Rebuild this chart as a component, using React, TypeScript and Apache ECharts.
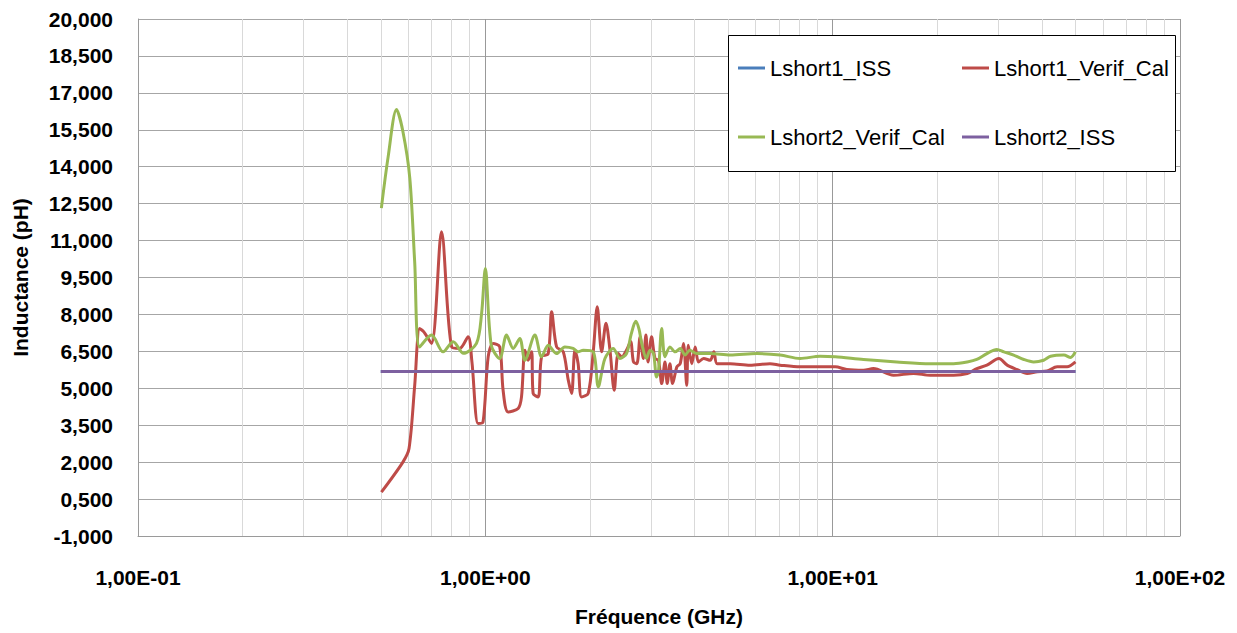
import React, { useEffect, useRef } from "react";
import * as echarts from "echarts";

// ---- data (frequency in GHz) ----
const issFreq = [0.5, 50];
const lshort1ISS = [5.68, 5.68];
const lshort2ISS = [5.68, 5.68];

const verif1Freq = [
  0.502, 0.579, 0.603, 0.626, 0.647, 0.665, 0.7, 0.748, 0.8, 0.844, 0.892, 0.915, 0.953, 0.985,
  1.019, 1.053, 1.1, 1.125, 1.163, 1.243, 1.271, 1.3, 1.328, 1.359, 1.373, 1.42, 1.452, 1.517,
  1.552, 1.604, 1.676, 1.733, 1.772, 1.811, 1.85, 1.893, 1.978, 2.045, 2.1, 2.162, 2.225, 2.285,
  2.35, 2.413, 2.47, 2.55, 2.62, 2.67, 2.73, 2.79, 2.85, 2.9, 2.94, 3.01, 3.08, 3.15, 3.22, 3.29,
  3.34, 3.4, 3.46, 3.56, 3.64, 3.72, 3.8, 3.84, 3.93, 4.02, 4.11, 4.25, 4.44, 4.55, 4.65, 5.07,
  5.78, 6.6, 7.06, 8.06, 9.2, 10.17, 10.98, 12.27, 13.1, 14.97, 17.1, 19.1, 22.3, 24.4, 26.0,
  27.8, 30.1, 31.8, 34.0, 36.3, 38.8, 41.4, 44.3, 47.3, 50,
];
const lshort1Verif = [
  0.78, 2.0, 2.55, 5.1, 7.43, 7.29, 6.82, 11.36, 6.68, 6.62, 7.09, 6.07, 3.57, 3.63,
  6.28, 6.82, 6.68, 4.92, 4.04, 4.18, 4.65, 6.55, 6.14, 6.48, 4.79, 4.65, 6.28, 6.41,
  8.11, 6.68, 6.48, 5.33, 4.79, 6.55, 6.0, 4.65, 4.79, 6.48, 8.31, 6.48, 7.64, 6.55,
  4.92, 6.41, 6.28, 6.55, 6.9, 6.07, 6.0, 7.09, 6.21, 7.16, 6.07, 7.09, 6.21, 6.14, 5.19, 6.07,
  5.19, 6.0, 5.19, 5.87, 6.0, 6.82, 5.12, 6.75, 6.0, 6.68, 6.07, 6.21, 6.14, 6.48, 6.0, 6.0,
  5.94, 6.0, 5.94, 5.87, 5.87, 5.87, 5.76, 5.73, 5.8, 5.53, 5.6, 5.53, 5.53, 5.6, 5.8,
  5.94, 6.21, 5.94, 5.76, 5.6, 5.67, 5.7, 5.87, 5.87, 6.07,
];

const verif2Freq = [
  0.502, 0.525, 0.555, 0.579, 0.606, 0.626, 0.647, 0.7, 0.756, 0.808, 0.865, 0.943, 0.975, 1.0,
  1.04, 1.1, 1.151, 1.203, 1.257, 1.3, 1.389, 1.452, 1.517, 1.604, 1.694, 1.79, 1.85, 1.914,
  2.045, 2.114, 2.21, 2.335, 2.44, 2.55, 2.63, 2.71, 2.77, 2.82, 2.91, 2.98, 3.05, 3.11, 3.15,
  3.22, 3.29, 3.4, 3.52, 3.64, 3.76, 3.88, 4.06, 4.44, 5.07, 6.05, 7.06, 8.06, 9.2, 10.17,
  12.27, 15.3, 19.1, 22.3, 24.4, 26.0, 27.8, 29.7, 31.1, 33.2, 35.5, 37.9, 40.5, 42.4, 46.3,
  48.4, 50,
];
const lshort2Verif = [
  12.32, 14.4, 16.32, 15.43, 13.55, 10.14, 6.68, 7.16, 6.48, 6.89, 6.42, 6.82, 8.0, 9.87,
  6.75, 6.21, 7.16, 6.62, 7.02, 6.14, 7.16, 6.28, 6.75, 6.41, 6.68, 6.62, 6.48, 6.55,
  6.48, 5.06, 6.21, 6.62, 6.21, 6.41, 7.2, 7.72, 7.4, 6.82, 6.21, 6.55, 6.41, 5.46, 5.67,
  7.43, 6.28, 6.68, 6.48, 6.62, 6.35, 6.55, 6.41, 6.41, 6.35, 6.41, 6.35, 6.21, 6.3, 6.28,
  6.17, 6.07, 6.0, 6.0, 6.07, 6.17, 6.41, 6.58, 6.48, 6.35, 6.17, 6.07, 6.14, 6.3, 6.35,
  6.25, 6.48,
];

const minorGridFreq = [
  0.2, 0.3, 0.4, 0.5, 0.6, 0.7, 0.8, 0.9, 2, 3, 4, 5, 6, 7, 8, 9, 20, 30, 40, 50, 60, 70, 80, 90,
];

const yMin = -1;
const yMax = 20;
const yStep = 1.5;
const yShift = -yMin; // axis is drawn shifted so that ticks fall on multiples of the step

const FONT = "'Liberation Sans', Arial, sans-serif";

const zip = (xs: number[], ys: number[]) => xs.map((x, i) => [x, ys[i] + yShift]);

export default function App() {
  const ref = useRef<HTMLDivElement>(null);

  useEffect(() => {
    if (!ref.current) return;
    const chart = echarts.init(ref.current, undefined, { renderer: "svg" });
    const lineSeries = (name: string, color: string, xs: number[], ys: number[], extra: any = {}) => ({
      name,
      type: "line",
      data: zip(xs, ys),
      color,
      symbol: "none",
      showSymbol: false,
      smooth: 0.3,
      lineStyle: { width: 3, color },
      itemStyle: { color },
      emphasis: { disabled: true },
      ...extra,
    });

    const legendBase = {
      orient: "vertical",
      top: 57,
      padding: 0,
      itemGap: 47,
      itemWidth: 27,
      itemHeight: 3,
      icon: "rect",
      z: 20,
      selectedMode: false,
      textStyle: { fontSize: 22, lineHeight: 22, color: "#000", fontFamily: FONT, padding: [0, 0, 0, 0] },
    };

    chart.setOption({
      animation: false,
      backgroundColor: "#ffffff",
      textStyle: { fontFamily: FONT },
      grid: { left: 138, right: 57, top: 19, bottom: 97, containLabel: false },
      xAxis: {
        type: "log",
        logBase: 10,
        min: 0.1,
        max: 100,
        axisLine: { show: true, lineStyle: { color: "#9a9a9a", width: 1 } },
        axisTick: { show: false },
        splitLine: { show: true, lineStyle: { color: "#999999", width: 1 } },
        axisLabel: {
          margin: 31,
          fontSize: 21,
          fontWeight: "bold",
          color: "#000",
          fontFamily: FONT,
          formatter: (v: number) => {
            const e = Math.round(Math.log10(v));
            return "1,00E" + (e < 0 ? "-" : "+") + String(Math.abs(e)).padStart(2, "0");
          },
        },
        name: "Fréquence (GHz)",
        nameLocation: "middle",
        nameGap: 70,
        nameTextStyle: { fontSize: 21, fontWeight: "bold", color: "#000", fontFamily: FONT },
      },
      yAxis: {
        type: "value",
        min: yMin + yShift,
        max: yMax + yShift,
        interval: yStep,
        axisLine: { show: true, lineStyle: { color: "#9a9a9a", width: 1 } },
        axisTick: { show: false },
        splitLine: { show: true, lineStyle: { color: "#a6a6a6", width: 1 } },
        axisLabel: {
          margin: 25,
          fontSize: 21,
          fontWeight: "bold",
          color: "#000",
          fontFamily: FONT,
          formatter: (v: number) => (v - yShift).toFixed(3).replace(".", ","),
        },
        name: "Inductance (pH)",
        nameLocation: "middle",
        nameGap: 107,
        nameTextStyle: { fontSize: 21, fontWeight: "bold", color: "#000", fontFamily: FONT },
      },
      legend: [
        { ...legendBase, data: ["Lshort1_ISS", "Lshort2_Verif_Cal"], left: 738 },
        { ...legendBase, data: ["Lshort1_Verif_Cal", "Lshort2_ISS"], left: 962 },
      ],
      graphic: [
        {
          type: "rect",
          z: 10,
          shape: { x: 728.5, y: 35.5, width: 447, height: 136 },
          style: { fill: "#ffffff", stroke: "#000000", lineWidth: 1 },
          silent: true,
        },
      ],
      series: [
        lineSeries("Lshort1_ISS", "#4a7ebb", issFreq, lshort1ISS, {
          smooth: false,
          z: 2,
          markLine: {
            silent: true,
            z: 1,
            symbol: ["none", "none"],
            label: { show: false },
            emphasis: { disabled: true },
            lineStyle: { color: "#d9d9d9", width: 1, type: "solid" },
            data: minorGridFreq.map((f) => ({ xAxis: f })),
          },
        }),
        lineSeries("Lshort1_Verif_Cal", "#be4b48", verif1Freq, lshort1Verif, { z: 3 }),
        lineSeries("Lshort2_Verif_Cal", "#98b954", verif2Freq, lshort2Verif, { z: 4 }),
        lineSeries("Lshort2_ISS", "#7d60a0", issFreq, lshort2ISS, { smooth: false, z: 5 }),
      ],
    });
    return () => chart.dispose();
  }, []);

  return (
    <div
      ref={ref}
      style={{ position: "fixed", left: 0, top: 0, width: 1237, height: 633, background: "#fff" }}
    />
  );
}
